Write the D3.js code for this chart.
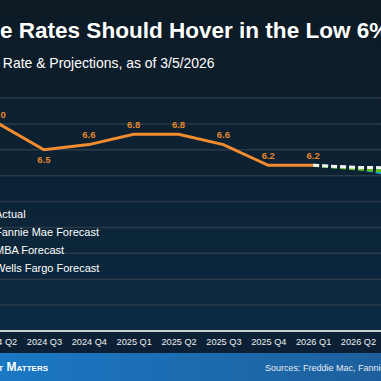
<!DOCTYPE html>
<html lang="en">
<head>
<meta charset="utf-8">
<title>Mortgage Rates</title>
<script src="https://d3js.org/d3.v7.min.js"></script>
<style>
  html, body { margin: 0; padding: 0; background: #0b1a26; }
  svg { display: block; font-family: "Liberation Sans", Arial, sans-serif; }
  svg text { white-space: pre; }
</style>
</head>
<body>
<svg></svg>
<script>
// categories (quarters) and series
var quarters = ["2024 Q2", "2024 Q3", "2024 Q4", "2025 Q1", "2025 Q2", "2025 Q3", "2025 Q4", "2026 Q1", "2026 Q2", "2026 Q3"];
var actual = [7.0, 6.5, 6.6, 6.8, 6.8, 6.6, 6.2, 6.2];
var actualLabels = ["7.0", "6.5", "6.6", "6.8", "6.8", "6.6", "6.2", "6.2"];
var forecastQuarters = ["2026 Q1", "2026 Q2", "2026 Q3"];
var fannieMae = [6.2, 6.16, 6.15];
var mba = [6.2, 6.13, 6.06];
var wellsFargo = [6.2, 6.14, 5.98];
var yTicks = [3.5, 4.0, 4.5, 5.0, 5.5, 6.0, 6.5, 7.0, 7.5];
var legendNames = ["Actual", "Fannie Mae Forecast", "MBA Forecast", "Wells Fargo Forecast"];

var w = 381, h = 381;
var svg = d3.select("svg").attr("width", w).attr("height", h);

// background
var defs = svg.append("defs");
var bg = defs.append("linearGradient").attr("id", "bg").attr("x1", 0).attr("y1", 0).attr("x2", 0).attr("y2", 1);
bg.append("stop").attr("offset", "0%").attr("stop-color", "#0d1a24");
bg.append("stop").attr("offset", "100%").attr("stop-color", "#0b2a42");
var band = defs.append("linearGradient").attr("id", "band").attr("x1", 0).attr("y1", 0).attr("x2", 1).attr("y2", 0);
band.append("stop").attr("offset", "0%").attr("stop-color", "#1b78c4");
band.append("stop").attr("offset", "100%").attr("stop-color", "#1d5f9c");

svg.append("rect").attr("width", w).attr("height", 331).attr("fill", "url(#bg)");
svg.append("rect").attr("y", 331).attr("width", w).attr("height", 22).attr("fill", "#0b2034");
svg.append("rect").attr("y", 353).attr("width", w).attr("height", 28).attr("fill", "url(#band)");

// scales
var x = d3.scalePoint().domain(quarters).range([-0.9, -0.9 + 44.86 * (quarters.length - 1)]);
var y = d3.scaleLinear().domain([3, 7.5]).range([331, 98]);

// grid
svg.append("g").selectAll("line").data(yTicks).enter().append("line")
  .attr("x1", 0).attr("x2", w)
  .attr("y1", d => y(d)).attr("y2", d => y(d))
  .attr("stroke", "#2a3a49").attr("stroke-width", 1.5);

// x axis
var xAxis = svg.append("g").attr("transform", "translate(0," + y(3) + ")")
  .call(d3.axisBottom(x).tickSize(0).tickPadding(7));
xAxis.select(".domain").remove();
xAxis.append("line").attr("x1", 0).attr("x2", w).attr("stroke", "#c9ced3").attr("stroke-width", 2);
xAxis.selectAll("text").attr("fill", "#eef0f2").style("font-size", "9.2px").style("font-family", "Liberation Sans, Arial");

// forecast lines
var fline = d3.line().x((d, i) => x(forecastQuarters[i])).y(d => y(d));
[[wellsFargo, "#1f9ad8"], [mba, "#5cbf1e"], [fannieMae, "#f2f2f2"]].forEach(function (s) {
  svg.append("path").datum(s[0]).attr("d", fline)
    .attr("fill", "none").attr("stroke", s[1]).attr("stroke-width", 3)
    .attr("stroke-dasharray", "6,3");
});

// actual line
var aline = d3.line().x((d, i) => x(quarters[i])).y(d => y(d));
svg.append("path").datum(actual).attr("d", aline)
  .attr("fill", "none").attr("stroke", "#f38b2f").attr("stroke-width", 3);

// value labels
svg.append("g").selectAll("text").data(actual).enter().append("text")
  .attr("x", (d, i) => x(quarters[i]))
  .attr("y", (d, i) => i === 1 ? y(d) + 13 : y(d) - 6.3)
  .attr("text-anchor", "middle")
  .attr("fill", "#e5862a").style("font-size", "9.5px").style("font-weight", "bold")
  .text((d, i) => actualLabels[i]);

// legend
var legendColors = ["#f38b2f", "#f2f2f2", "#5cbf1e", "#1f9ad8"];
var lg = svg.append("g").selectAll("g").data(legendNames).enter().append("g")
  .attr("transform", (d, i) => "translate(-5," + (218 + 18 * i) + ")");
lg.append("line").attr("x1", -30).attr("x2", -10).attr("y1", -4).attr("y2", -4)
  .attr("stroke", (d, i) => legendColors[i]).attr("stroke-width", 3)
  .attr("stroke-dasharray", (d, i) => i === 0 ? null : "6,3");
lg.append("text").attr("fill", "#ffffff").style("font-size", "11px").text(d => d);

// title and subtitle (measured so the visible part lines up)
var title = svg.append("text").attr("y", 38).attr("fill", "#ffffff")
  .style("font-size", "20px").style("font-weight", "bold");
var tPre = title.text("Mortgag").node().getComputedTextLength();
var tVis = title.text("e Rates Should Hover in the Low ").node().getComputedTextLength();
var tSize = 20 * 357 / tVis;
title.style("font-size", tSize + "px").text("Mortgage Rates Should Hover in the Low 6%s")
  .attr("x", -tPre * tSize / 20);

var sub = svg.append("text").attr("y", 68).attr("fill", "#ffffff").style("font-size", "14px");
var sPre = sub.text("30-Year Fixed Mortgage ").node().getComputedTextLength();
var sVis = sub.text("Rate & Projections, as of 3/5/2026").node().getComputedTextLength();
var sSize = 14 * 212 / sVis;
sub.style("font-size", sSize + "px").text("30-Year Fixed Mortgage Rate & Projections, as of 3/5/2026")
  .attr("x", 3 - sPre * sSize / 14);

// footer
svg.append("text").attr("x", 48).attr("y", 371).attr("text-anchor", "end")
  .attr("fill", "#ffffff").style("font-size", "12px").style("font-weight", "bold")
  .style("font-variant", "small-caps").text("Keeping Current Matters");
svg.append("text").attr("x", 265).attr("y", 371)
  .attr("fill", "#e4ecf3").style("font-size", "9px")
  .text("Sources: Freddie Mac, Fannie Mae, MBA, Wells Fargo");
</script>
</body>
</html>
